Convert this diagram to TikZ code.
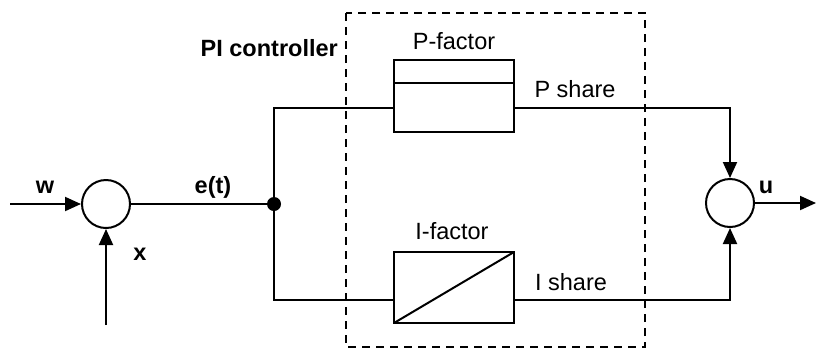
\documentclass[tikz,border=0pt]{standalone}
\usepackage{fontspec}
\setmainfont{Liberation Sans}
\usepackage{tikz}
\usetikzlibrary{arrows.meta,positioning,calc}

\tikzset{
  sumnode/.style={draw,circle,line width=2pt,minimum size=48pt,inner sep=0pt},
  blockbox/.style={draw,rectangle,line width=2pt,minimum width=120pt,inner sep=0pt,outer sep=0pt},
  sig/.style={line width=2pt},
  sigarrow/.style={line width=2pt,-{Triangle[length=16pt,width=14pt]}},
  lbl/.style={anchor=base,inner sep=0pt,font=\fontsize{23.5}{28}\selectfont},
  blbl/.style={lbl,font=\fontsize{23.5}{28}\selectfont\bfseries}
}

\begin{document}
\begin{tikzpicture}[x=1pt,y=-1pt]
    \useasboundingbox (0,0) rectangle (816,349);
    % controller frame
    \draw[line width=1.8pt,dash pattern=on 8pt off 6pt] (346,13) rectangle (645,347);
    \node[blbl,anchor=base east] (ctrl) at (338,56) {PI controller};
    % summing points and branch point
    \node[sumnode] (sumerr) at (106,204) {};
    \node[sumnode] (sumout) at (730,203) {};
    \node[circle,fill,inner sep=0pt,minimum size=14pt] (branch) at (274,204) {};
    % P block (split box)
    \node[blockbox,minimum height=23pt] (ptop) at (454,71.5) {};
    \node[blockbox,minimum height=49pt,below=0pt of ptop] (pbot) {};
    % I block, signal runs below its middle
    \node[blockbox,minimum height=71pt] (ibox) at (454,287.5) {};
    \draw[sig] (ibox.south west) -- (ibox.north east);
    \coordinate (iin) at ($(ibox.west)+(0,12.5)$);
    \coordinate (iout) at ($(ibox.east)+(0,12.5)$);
    % free ends
    \coordinate (win) at (10,204);
    \coordinate (xin) at (106,325);
    \coordinate (uout) at (816,203);
    % signal lines
    \draw[sigarrow] (win) -- (sumerr.west);
    \draw[sigarrow] (xin) -- (sumerr.south);
    \draw[sig] (sumerr.east) -- (branch);
    \draw[sig] (branch) |- (pbot.west);
    \draw[sig] (branch) |- (iin);
    \draw[sigarrow] (pbot.east) -| (sumout.north);
    \draw[sigarrow] (iout) -| (sumout.south);
    \draw[sigarrow] (sumout.east) -- (uout);
    % labels
    \node[blbl] (wlbl) at (45,193) {w};
    \node[blbl] (xlbl) at (140,260) {x};
    \node[blbl] (elbl) at (213,193) {e(t)};
    \node[blbl] (ulbl) at (766,193) {u};
    \node[lbl] (pfac) at (454,49) {P-factor};
    \node[lbl] (ifac) at (452,239) {I-factor};
    \node[lbl] (psh) at (575,97) {P share};
    \node[lbl] (ish) at (571,290) {I share};
\end{tikzpicture}
\end{document}
